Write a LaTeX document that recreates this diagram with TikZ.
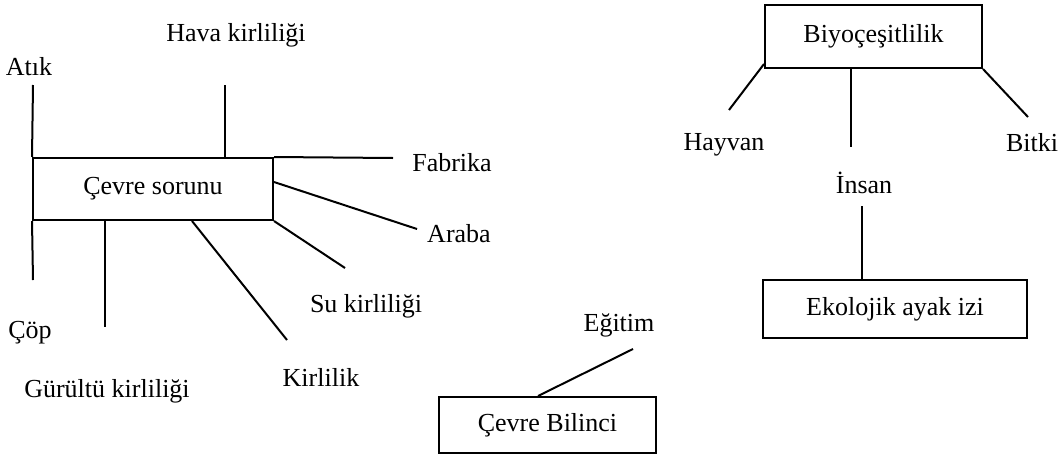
\documentclass[tikz,border=0pt]{standalone}
\usepackage{fontspec}
\setmainfont{Liberation Serif}
\usetikzlibrary{calc}
\tikzset{
  kutu/.style={draw, line width=2pt, inner sep=0pt},
  yazi/.style={anchor=base, inner sep=0pt},
  cizgi/.style={line width=2pt}
}

\begin{document}
\begin{tikzpicture}[x=1pt, y=-1pt, font=\fontsize{26}{31}\selectfont]
	%%%%% KUTULAR %%%%%
	\useasboundingbox (0,0) rectangle (1062,455);
	
	\node[kutu, minimum width=240pt, minimum height=62pt] (cs) at (153, 189) {Çevre sorunu};
	\node[kutu, minimum width=217pt, minimum height=63pt] (bio) at (873.5, 36.5) {Biyoçeşitlilik};
	\node[kutu, minimum width=264pt, minimum height=58pt] (eko) at (895, 309) {Ekolojik ayak izi};
	\node[kutu, minimum width=217pt, minimum height=56pt] (cb) at (547.5, 425) {Çevre Bilinci};
	
	%%%%% YAZILAR %%%%%
	\node[yazi] (atik) at (29, 75) {Atık};
	\node[yazi] (hava) at (236, 41) {Hava kirliliği};
	\node[yazi] (fabrika) at (452, 171) {Fabrika};
	\node[yazi] (araba) at (459, 242) {Araba};
	\node[yazi] (su) at (366, 312) {Su kirliliği};
	\node[yazi] (kirlilik) at (321, 386) {Kirlilik};
	\node[yazi] (gurultu) at (107, 397) {Gürültü kirliliği};
	\node[yazi] (cop) at (30, 338) {Çöp};
	\node[yazi] (egitim) at (619, 331) {Eğitim};
	\node[yazi] (hayvan) at (724, 150) {Hayvan};
	\node[yazi] (bitki) at (1032, 151) {Bitki};
	\node[yazi] (insan) at (864, 193) {İnsan};
	
	%%%%% UCLAR %%%%%
	\coordinate (atikuc) at (33, 85);
	\coordinate (copuc) at (33, 280);
	\coordinate (havauc) at (225, 85);
	\coordinate (fabuc) at (393, 158);
	\coordinate (arabauc) at (417, 229);
	\coordinate (suuc) at (345, 268);
	\coordinate (kiruc) at (287, 340);
	\coordinate (guruc) at (105, 327);
	\coordinate (egituc) at (633, 349);
	\coordinate (hayuc) at (729, 110);
	\coordinate (insuc) at (851, 147);
	\coordinate (bituc) at (1028, 117);
	\coordinate (ekouc) at (862, 206);
	
	%%%%% CIZGILER %%%%%
	\draw[cizgi] (cs.north west) -- (atikuc);
	\draw[cizgi] (cs.south west) -- (copuc);
	\draw[cizgi] (cs.north -| havauc) -- (havauc);
	\draw[cizgi] (cs.north east) -- (fabuc);
	\draw[cizgi] ([yshift=7pt]cs.east) -- (arabauc);
	\draw[cizgi] (cs.south east) -- (suuc);
	\draw[cizgi] ([xshift=39pt]cs.south) -- (kiruc);
	\draw[cizgi] (cs.south -| guruc) -- (guruc);
	
	\draw[cizgi] ([xshift=-9.5pt]cb.north) -- (egituc);
	
	\draw[cizgi] ([yshift=5pt]bio.south west) -- (hayuc);
	\draw[cizgi] (bio.south -| insuc) -- (insuc);
	\draw[cizgi] (bio.south east) -- (bituc);
	\draw[cizgi] (ekouc) -- (eko.north -| ekouc);
	
\end{tikzpicture}
\end{document}
